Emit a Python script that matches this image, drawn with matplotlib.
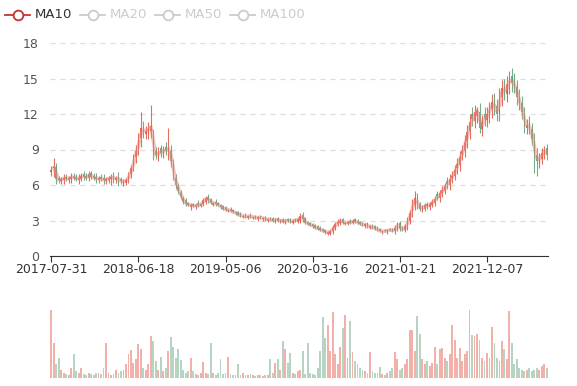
import matplotlib
matplotlib.use("Agg")
import matplotlib.pyplot as plt
from matplotlib.lines import Line2D
import numpy as np

# weekly-ish candles (2017-07-31 .. 2022-08)
closes = [
    7.3, 7.6, 6.5, 6.4, 6.5, 6.6, 6.5, 6.6, 6.7, 6.6,
    6.5, 6.6, 6.8, 6.7, 6.6, 6.9, 6.7, 6.6, 6.5, 6.6,
    6.5, 6.4, 6.5, 6.6, 6.7, 6.5, 6.6, 6.4, 6.3, 6.3,
    6.4, 6.8, 7.4, 8.2, 8.9, 9.8, 10.8, 10.5, 10.6, 10.8,
    11.0, 8.6, 8.5, 8.8, 8.7, 9.0, 8.9, 9.2, 8.0, 6.8,
    6.0, 5.5, 5.0, 4.6, 4.4, 4.3, 4.3, 4.2, 4.3, 4.3,
    4.4, 4.7, 4.9, 4.7, 4.5, 4.5, 4.4, 4.3, 4.1, 4.0,
    3.9, 3.9, 3.8, 3.7, 3.6, 3.5, 3.4, 3.4, 3.3, 3.4,
    3.3, 3.3, 3.2, 3.3, 3.2, 3.2, 3.1, 3.1, 3.1, 3.0,
    3.1, 3.0, 3.0, 2.9, 3.0, 3.0, 2.9, 3.0, 3.0, 3.1,
    3.4, 3.1, 2.8, 2.7, 2.6, 2.5, 2.4, 2.3, 2.2, 2.1,
    2.0, 2.0, 2.1, 2.4, 2.7, 2.9, 3.0, 2.8, 2.8, 2.9,
    2.8, 3.0, 2.9, 2.8, 2.7, 2.6, 2.7, 2.5, 2.5, 2.4,
    2.3, 2.2, 2.1, 2.1, 2.1, 2.2, 2.2, 2.1, 2.4, 2.7,
    2.3, 2.2, 2.5, 3.0, 3.6, 4.4, 4.9, 4.3, 4.0, 4.1,
    4.3, 4.2, 4.4, 4.6, 4.8, 5.0, 5.3, 5.6, 5.9, 6.1,
    6.5, 6.8, 7.3, 7.8, 8.4, 8.9, 9.6, 10.5, 11.3, 11.6,
    12.2, 12.3, 10.8, 11.3, 11.6, 12.0, 12.4, 13.0, 12.5, 12.0,
    13.5, 14.2, 13.8, 14.5, 15.0, 14.6, 14.4, 13.4, 12.9, 12.2,
    11.0, 11.1, 10.8, 9.9, 8.6, 8.0, 8.3, 8.7, 9.0, 8.5,
]
opens = [
    7.1, 7.4, 7.5, 6.6, 6.3, 6.4, 6.7, 6.4, 6.5, 6.8,
    6.7, 6.4, 6.5, 6.9, 6.8, 6.6, 7.0, 6.8, 6.7, 6.4,
    6.7, 6.6, 6.3, 6.4, 6.5, 6.8, 6.4, 6.6, 6.5, 6.1,
    6.2, 6.5, 6.9, 7.6, 8.4, 9.1, 10.0, 10.9, 10.3, 10.4,
    10.6, 10.2, 8.9, 8.4, 9.1, 8.6, 9.2, 8.7, 8.9, 7.8,
    6.6, 5.9, 5.4, 4.9, 4.7, 4.5, 4.1, 4.4, 4.1, 4.5,
    4.2, 4.4, 4.6, 5.0, 4.8, 4.3, 4.6, 4.5, 4.3, 4.2,
    4.1, 3.8, 4.0, 3.9, 3.7, 3.7, 3.6, 3.3, 3.5, 3.2,
    3.5, 3.2, 3.4, 3.1, 3.4, 3.1, 3.3, 3.0, 3.2, 3.2,
    2.9, 3.2, 2.9, 3.1, 2.8, 3.1, 3.1, 2.8, 3.1, 2.9,
    3.0, 3.5, 3.2, 2.9, 2.8, 2.7, 2.6, 2.5, 2.4, 2.3,
    2.2, 1.9, 1.9, 2.1, 2.4, 2.7, 2.8, 3.1, 2.7, 2.7,
    3.0, 2.8, 3.1, 3.0, 2.9, 2.8, 2.5, 2.8, 2.4, 2.6,
    2.5, 2.4, 2.3, 2.0, 2.2, 2.0, 2.3, 2.3, 2.1, 2.3,
    2.8, 2.4, 2.2, 2.5, 3.0, 3.7, 4.3, 5.0, 4.4, 3.9,
    4.0, 4.4, 4.1, 4.3, 4.5, 5.2, 4.9, 5.3, 5.5, 6.3,
    6.0, 6.6, 6.8, 7.4, 7.7, 8.6, 9.0, 9.7, 10.6, 12.0,
    11.4, 11.8, 12.2, 10.7, 12.0, 11.5, 11.8, 12.4, 13.2, 12.7,
    12.1, 13.4, 14.4, 13.7, 14.3, 15.2, 14.9, 14.3, 13.5, 12.9,
    12.0, 10.8, 11.3, 10.7, 9.8, 8.5, 7.8, 8.2, 8.6, 9.1,
]
wicks = [
    .3, .7, .4, .2, .2, .3, .2, .2, .3, .2,
    .2, .3, .2, .3, .2, .3, .2, .2, .3, .2,
    .2, .3, .2, .2, .2, .3, .2, .5, .2, .2,
    .2, .3, .3, .4, .5, .6, .8, .5, .4, .5,
    .6, .5, .3, .4, .3, .3, .4, .6, .5, .4,
    .3, .3, .2, .2, .2, .1, .2, .1, .1, .2,
    .1, .2, .2, .2, .1, .1, .2, .1, .1, .1,
    .1, .1, .1, .1, .1, .1, .1, .1, .1, .1,
    .1, .1, .1, .1, .1, .1, .1, .1, .1, .1,
    .1, .1, .1, .1, .1, .1, .1, .1, .1, .1,
    .2, .2, .1, .1, .1, .1, .1, .1, .1, .1,
    .1, .1, .1, .2, .2, .2, .2, .1, .1, .1,
    .1, .1, .1, .1, .1, .1, .1, .1, .1, .1,
    .1, .1, .1, .1, .1, .1, .1, .1, .2, .2,
    .2, .1, .2, .3, .3, .4, .4, .3, .2, .2,
    .2, .2, .2, .2, .3, .3, .3, .3, .3, .4,
    .4, .4, .4, .5, .5, .5, .6, .6, .7, .6,
    .6, .6, .7, .6, .6, .6, .6, .7, .6, .6,
    .7, .7, .6, .7, .6, .7, .6, .6, .6, .6,
    .6, .5, .5, .5, .6, .6, .4, .4, .4, .4,
]
# long wicks that stand out
spike_high = {1: 8.3, 36: 12.2, 40: 12.8, 47: 10.8, 62: 5.1, 100: 3.6,
              139: 2.9, 146: 5.5, 171: 12.6, 184: 15.6, 198: 9.3}
spike_low = {24: 6.0, 172: 10.4, 194: 7.0, 195: 6.8}

volumes = [
    100, 51, 20, 30, 12, 8, 6, 5, 14, 35,
    10, 8, 15, 6, 5, 7, 6, 5, 7, 8,
    6, 15, 52, 8, 5, 6, 12, 8, 10, 12,
    20, 36, 41, 22, 28, 50, 43, 15, 12, 20,
    62, 55, 25, 12, 31, 10, 14, 40, 60, 46,
    29, 42, 27, 12, 8, 10, 29, 10, 6, 5,
    8, 23, 8, 6, 52, 8, 5, 7, 28, 6,
    8, 31, 6, 4, 5, 21, 5, 8, 4, 5,
    6, 4, 3, 5, 4, 3, 4, 5, 28, 8,
    22, 28, 12, 55, 42, 22, 37, 8, 6, 10,
    12, 40, 6, 52, 8, 6, 5, 14, 40, 89,
    59, 78, 40, 97, 35, 20, 45, 74, 93, 30,
    84, 38, 25, 20, 15, 12, 10, 8, 38, 10,
    8, 7, 16, 6, 5, 8, 10, 14, 38, 28,
    12, 15, 20, 28, 70, 71, 40, 91, 64, 28,
    20, 25, 18, 22, 45, 20, 43, 44, 30, 25,
    35, 78, 56, 30, 44, 25, 35, 40, 100, 63,
    62, 65, 56, 30, 25, 37, 30, 75, 52, 30,
    25, 55, 42, 28, 98, 52, 20, 28, 15, 12,
    10, 12, 15, 10, 12, 14, 12, 18, 21, 14,
]

tick_pos = [0, 35, 70, 105, 140, 175]
tick_labels = ["2017-07-31", "2018-06-18", "2019-05-06",
               "2020-03-16", "2021-01-21", "2021-12-07"]

closes = np.array(closes)
opens = np.array(opens)
wicks = np.array(wicks)
highs = np.maximum(opens, closes) + wicks
lows = np.minimum(opens, closes) - wicks
for k, v in spike_high.items():
    highs[k] = v
for k, v in spike_low.items():
    lows[k] = v
n = len(closes)
idx = np.arange(n)
up = closes >= opens

red = "#e0533f"
green = "#5d9e7a"
cols = np.where(up, red, green)

fig = plt.figure(figsize=(5.77, 3.86), dpi=100)
ax = fig.add_axes([50 / 577, 1 - 256 / 386, 498 / 577, 213 / 386])
axv = fig.add_axes([50 / 577, 1 - 378 / 386, 498 / 577, 68 / 386], sharex=ax)

ax.vlines(idx, lows, highs, colors=cols, lw=0.8, alpha=0.85, zorder=3)
body = np.maximum(np.abs(closes - opens), 0.08)
ax.bar(idx, body, bottom=np.minimum(opens, closes), width=0.6,
       color=cols, alpha=0.85, zorder=3, linewidth=0)

# MA10 line (about two of these candles), pale and on top
ma = np.convolve(closes, np.ones(2) / 2, mode="valid")
ax.plot(idx[1:], ma, color="#e8897c", lw=2.6, alpha=0.5, zorder=4,
        solid_capstyle="round", solid_joinstyle="round")

ax.set_ylim(0, 18)
ax.set_yticks([0, 3, 6, 9, 12, 15, 18])
ax.set_xlim(-0.5, n - 0.5)
ax.grid(axis="y", color="#dddddd", linestyle=(0, (4, 4)), lw=0.9)
ax.set_axisbelow(True)
for s in ["top", "right", "left"]:
    ax.spines[s].set_visible(False)
ax.spines["bottom"].set_color("#333333")
ax.tick_params(axis="y", length=0, labelsize=9, labelcolor="#555555", pad=8)
ax.tick_params(axis="x", length=4, color="#333333", labelsize=9,
               labelcolor="#333333", pad=1)
ax.set_xticks(tick_pos)
ax.set_xticklabels(tick_labels)

axv.bar(idx, volumes, width=0.75, color=cols, alpha=0.45, linewidth=0)
axv.set_ylim(0, 100)
axv.axis("off")
ax.tick_params(axis="x", labelbottom=True)

# legend: only MA10 is active, the rest are greyed out
items = [("MA10", "#c23531", "#333333"), ("MA20", "#cccccc", "#cccccc"),
         ("MA50", "#cccccc", "#cccccc"), ("MA100", "#cccccc", "#cccccc")]
xs = [5, 80, 155, 230]
for (name, c, tc), x0 in zip(items, xs):
    y = 1 - 15 / 386
    fig.add_artist(Line2D([x0 / 577, (x0 + 25) / 577], [y, y], color=c, lw=1.3,
                          transform=fig.transFigure))
    fig.add_artist(Line2D([(x0 + 12.5) / 577], [y], marker="o", ms=7,
                          markerfacecolor="white", markeredgecolor=c, mew=1.3,
                          transform=fig.transFigure))
    fig.text((x0 + 30) / 577, y, name, color=tc, fontsize=9.5, va="center")

fig.savefig("out.png", dpi=100)
